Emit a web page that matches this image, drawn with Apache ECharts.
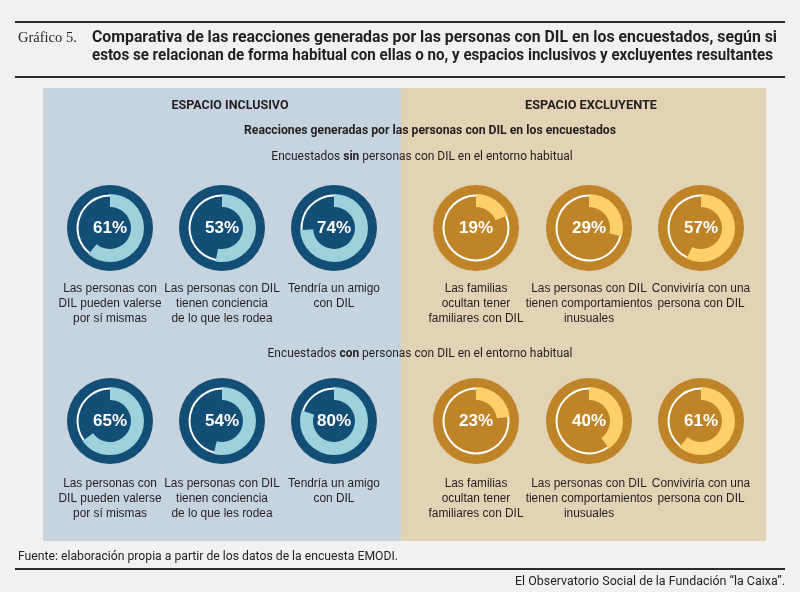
<!DOCTYPE html>
<html lang="es">
<head>
    <meta charset="UTF-8">
    <title>Gráfico 5</title>
    <style>
        body {
            margin: 0;
            padding: 0;
            background: #f1f1f1;
        }
        #chart {
            width: 800px;
            height: 592px;
        }
    </style>
</head>
<body>
<div id="chart"></div>
<script src="https://cdn.jsdelivr.net/npm/echarts@6/dist/echarts.min.js"></script>
<script>
    // datos
    const labelsInclusivo = [
        "Las personas con\nDIL pueden valerse\npor sí mismas",
        "Las personas con DIL\ntienen conciencia\nde lo que les rodea",
        "Tendría un amigo\ncon DIL"
    ];
    const labelsExcluyente = [
        "Las familias\nocultan tener\nfamiliares con DIL",
        "Las personas con DIL\ntienen comportamientos\ninusuales",
        "Conviviría con una\npersona con DIL"
    ];
    const sinInclusivo = [61, 53, 74];
    const sinExcluyente = [19, 29, 57];
    const conInclusivo = [65, 54, 80];
    const conExcluyente = [23, 40, 61];

    const titleLines = [
        "Comparativa de las reacciones generadas por las personas con DIL en los encuestados, según si",
        "estos se relacionan de forma habitual con ellas o no, y espacios inclusivos y excluyentes resultantes"
    ];

    const sans = "Roboto, 'Liberation Sans', Arial, sans-serif";
    const regular = "'Liberation Sans', Arial, sans-serif";
    const ink = "#231f20";

    const blue = {dark: "#134e77", arc: "#9dd2dc"};
    const gold = {dark: "#bf8427", arc: "#fdd069"};

    const colsIn = [110, 222, 334];
    const colsEx = [476, 589, 701];
    const rows = [
        {cy: 228, labelY: 281},
        {cy: 421, labelY: 476},
    ];
    const outerR = 43;

    const chart = echarts.init(document.getElementById("chart"));

    // fuente condensada simulada: se mide el texto y se estrecha hasta el ancho deseado
    const measureCtx = document.createElement("canvas").getContext("2d");
    function squeeze(text, font, width) {
        measureCtx.font = font;
        return width / measureCtx.measureText(text).width;
    }

    function condText(text, x, y, font, width, align) {
        return {
            type: "text",
            x, y,
            scaleX: squeeze(text, font, width),
            silent: true,
            z: 10,
            style: {text, fill: ink, font, align: align || "left", verticalAlign: "middle"}
        };
    }

    function richLine(word, x, y, width) {
        const nFont = "12.5px " + sans;
        const bFont = "bold 12.5px " + sans;
        const plain = "Encuestados " + word + " personas con DIL en el entorno habitual";
        return {
            type: "text",
            x, y,
            scaleX: squeeze(plain, nFont, width),
            silent: true,
            z: 10,
            style: {
                text: "{n|Encuestados }{b|" + word + "}{n| personas con DIL en el entorno habitual}",
                align: "center",
                verticalAlign: "middle",
                rich: {
                    n: {fill: ink, font: nFont},
                    b: {fill: ink, font: bFont}
                }
            }
        };
    }

    const series = [];
    const graphic = [];

    function addDonut(cx, cy, pct, pal, label, labelY) {
        const rest = 100 - pct;
        graphic.push({
            type: "circle",
            shape: {cx, cy, r: outerR},
            style: {fill: pal.dark},
            silent: true,
            z: 1
        });
        series.push({
            type: "pie",
            center: [cx, cy],
            radius: [21, 34],
            startAngle: 90,
            clockwise: true,
            silent: true,
            z: 5,
            label: {show: false},
            labelLine: {show: false},
            emphasis: {disabled: true},
            data: [
                {
                    value: pct,
                    itemStyle: {color: pal.arc},
                    label: {
                        show: true,
                        position: "center",
                        formatter: "{c}%",
                        color: "#ffffff",
                        fontSize: 17,
                        fontWeight: "bold",
                        fontFamily: regular
                    }
                },
                {value: rest, itemStyle: {color: "rgba(0,0,0,0)"}}
            ]
        });
        series.push({
            type: "pie",
            center: [cx, cy],
            radius: [31.5, 33.5],
            startAngle: 90,
            clockwise: true,
            silent: true,
            z: 4,
            label: {show: false},
            labelLine: {show: false},
            emphasis: {disabled: true},
            data: [
                {value: pct, itemStyle: {color: "rgba(0,0,0,0)"}},
                {value: rest, itemStyle: {color: "#ffffff"}}
            ]
        });
        graphic.push({
            type: "text",
            x: cx,
            y: labelY,
            scaleX: 0.95,
            silent: true,
            z: 10,
            style: {
                text: label,
                fill: ink,
                font: "12.5px " + regular,
                lineHeight: 15,
                align: "center",
                verticalAlign: "top"
            }
        });
    }

    const titleFont = "bold 16px " + sans;

    graphic.push(
        {type: "rect", shape: {x: 15, y: 21, width: 770, height: 2}, style: {fill: "#2b2b2b"}, silent: true},
        {type: "rect", shape: {x: 15, y: 76, width: 770, height: 2}, style: {fill: "#2b2b2b"}, silent: true},
        {
            type: "text", x: 18, y: 38, silent: true,
            style: {text: "Gráfico 5.", fill: ink, font: "14.5px 'Liberation Serif', 'DejaVu Serif', serif", verticalAlign: "middle"}
        },
        condText(titleLines[0], 92, 38, titleFont, 685, "left"),
        condText(titleLines[1], 92, 56, titleFont, 681, "left"),
        {type: "rect", shape: {x: 43, y: 88, width: 358, height: 453}, style: {fill: "#c6d4df"}, silent: true, z: 0},
        {type: "rect", shape: {x: 401, y: 88, width: 365, height: 453}, style: {fill: "#e2d3b4"}, silent: true, z: 0},
        condText("ESPACIO INCLUSIVO", 230, 106, "bold 12.5px " + sans, 117, "center"),
        condText("ESPACIO EXCLUYENTE", 591, 106, "bold 12.5px " + sans, 132, "center"),
        condText("Reacciones generadas por las personas con DIL en los encuestados", 430, 131, "bold 12.5px " + sans, 372, "center"),
        richLine("sin", 422, 157, 301),
        richLine("con", 420, 354, 305),
        condText("Fuente: elaboración propia a partir de los datos de la encuesta EMODI.", 18, 557, "13px " + sans, 380, "left"),
        {type: "rect", shape: {x: 15, y: 568, width: 770, height: 2}, style: {fill: "#2b2b2b"}, silent: true},
        condText("El Observatorio Social de la Fundación “la Caixa”.", 785, 582, "13px " + sans, 270, "right")
    );

    const blocks = [
        {vals: sinInclusivo, cols: colsIn, pal: blue, labels: labelsInclusivo, row: rows[0]},
        {vals: sinExcluyente, cols: colsEx, pal: gold, labels: labelsExcluyente, row: rows[0]},
        {vals: conInclusivo, cols: colsIn, pal: blue, labels: labelsInclusivo, row: rows[1]},
        {vals: conExcluyente, cols: colsEx, pal: gold, labels: labelsExcluyente, row: rows[1]},
    ];
    blocks.forEach(b => {
        b.vals.forEach((v, i) => {
            addDonut(b.cols[i], b.row.cy, v, b.pal, b.labels[i], b.row.labelY);
        });
    });

    chart.setOption({
        backgroundColor: "#f1f1f1",
        animation: false,
        graphic: graphic,
        series: series
    });
</script>
</body>
</html>
